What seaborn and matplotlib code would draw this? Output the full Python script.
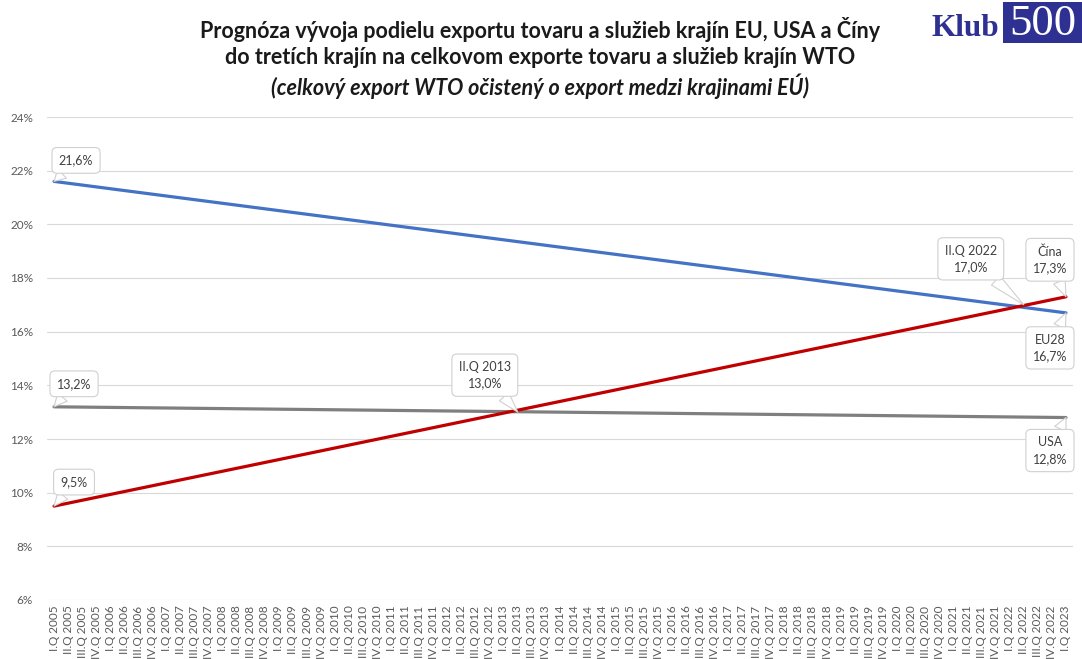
import numpy as np
import pandas as pd
import matplotlib
matplotlib.use("Agg")
import matplotlib.pyplot as plt
import seaborn as sns
from matplotlib.patches import Rectangle

# quarters on the x axis
years = list(range(2005, 2023))
roman = ["I", "II", "III", "IV"]
quarters = [f"{r}.Q {y}" for y in years for r in roman] + ["I.Q 2023"]

# series: straight trend lines, start and end values
series_names = ["EU28", "USA", "Čína"]
series_colors = ["#4472C4", "#7F7F7F", "#C00000"]
start_quarter = "I.Q 2005"
end_quarter = "I.Q 2023"
start_values = [21.6, 13.2, 9.5]
end_values = [16.7, 12.8, 17.3]

# crossing points
cross_labels = ["II.Q 2013", "II.Q 2022"]
cross_values = [13.0, 17.0]

y_ticks = [6, 8, 10, 12, 14, 16, 18, 20, 22, 24]

rows = []
for name, v0, v1 in zip(series_names, start_values, end_values):
    rows.append({"series": name, "pos": quarters.index(start_quarter), "value": v0})
    rows.append({"series": name, "pos": quarters.index(end_quarter), "value": v1})
df = pd.DataFrame(rows)

sns.set_style("white")
plt.rcParams['font.family'] = ['Lato', 'DejaVu Sans']

fig = plt.figure(figsize=(10.82, 6.59), dpi=100)
ax = fig.add_axes([47 / 1082, 59 / 659, 1026 / 1082, 483 / 659])

sns.lineplot(data=df, x="pos", y="value", hue="series", hue_order=series_names,
             palette=series_colors, linewidth=2.3, legend=False, ax=ax, zorder=3)

ax.set_xlim(-0.5, len(quarters) - 0.5)
ax.set_ylim(y_ticks[0], y_ticks[-1])
ax.set_yticks(y_ticks)
ax.set_yticklabels([f"{v}%" for v in y_ticks])
ax.set_xticks(range(len(quarters)))
ax.set_xticklabels(quarters, rotation=90)
ax.tick_params(axis="y", length=0, pad=10, labelsize=8.5, labelcolor="#595959")
ax.tick_params(axis="x", length=0, pad=4, labelsize=8.5, labelcolor="#595959")
ax.yaxis.grid(True, color="#D9D9D9", linewidth=0.8)
ax.set_axisbelow(True)
for s in ax.spines.values():
    s.set_visible(False)
ax.set_xlabel("")
ax.set_ylabel("")


def fmt(v):
    return f"{v:.1f}%".replace(".", ",")


def callout(text, x, y, dx, dy):
    ax.annotate(text, xy=(x, y), xytext=(dx, dy), textcoords="offset pixels",
                ha="center", va="center", fontsize=9, color="#404040",
                linespacing=1.45, zorder=5,
                bbox=dict(boxstyle="round,pad=0.55,rounding_size=0.4",
                          fc="white", ec="#D0D0D0", lw=0.8),
                arrowprops=dict(arrowstyle="wedge,tail_width=1.0,shrink_factor=0.5",
                                fc="white", ec="#D0D0D0", lw=0.8,
                                shrinkA=0, shrinkB=0))


i0 = quarters.index(start_quarter)
i1 = quarters.index(end_quarter)
start_offsets = [(22, 21), (20, 23), (20, 24)]
end_offsets = [(-16, -35), (-16, -33), (-16, 37)]
for name, v0, v1, o0, o1 in zip(series_names, start_values, end_values,
                                start_offsets, end_offsets):
    callout(fmt(v0), i0, v0, *o0)
    callout(f"{name}\n{fmt(v1)}", i1, v1, *o1)

cross_offsets = [(-33, 37), (-53, 46)]
for lab, val, off in zip(cross_labels, cross_values, cross_offsets):
    callout(f"{lab}\n{fmt(val)}", quarters.index(lab), val, *off)

# title
title_kw = dict(ha="center", va="center", fontsize=15.5, fontweight="bold", color="#1a1a1a")
fig.text(0.499, 1 - 30 / 659,
         "Prognóza vývoja podielu exportu tovaru a služieb krajín EU, USA a Číny", **title_kw)
fig.text(0.499, 1 - 57 / 659,
         "do tretích krajín na celkovom exporte tovaru a služieb krajín WTO", **title_kw)
fig.text(0.499, 1 - 86 / 659,
         "(celkový export WTO očistený o export medzi krajinami EÚ)", style="italic", **title_kw)

# logo
fig.patches.append(Rectangle((1003 / 1082, 1 - 43 / 659), 79 / 1082, 41 / 659,
                             transform=fig.transFigure, fc="#2E3192", ec="none"))
fig.text(965 / 1082, 1 - 28 / 659, "Klub", ha="center", va="center", fontsize=22.5,
         fontweight="bold", family="Liberation Serif", color="#2E3192")
fig.text(1043 / 1082, 1 - 24 / 659, "500", ha="center", va="center", fontsize=32,
         family="Liberation Serif", color="white")

fig.savefig("out.png", dpi=100)
